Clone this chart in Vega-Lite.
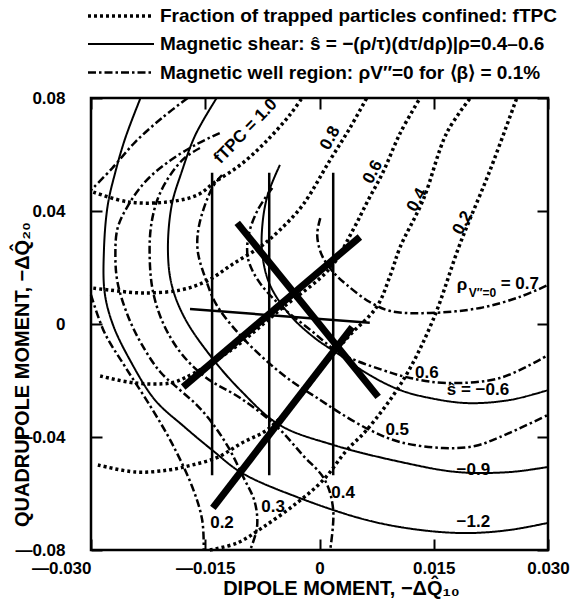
{
  "$schema": "https://vega.github.io/schema/vega-lite/v6.json",
  "width": 457,
  "height": 452,
  "autosize": {"type": "none"},
  "padding": {"left": 91, "top": 98, "right": 22, "bottom": 52},
  "background": "white",
  "config": {
    "view": {"stroke": "black", "strokeWidth": 2.5},
    "font": "Liberation Sans",
    "axis": {
      "labelFont": "Liberation Sans", "labelFontSize": 17, "labelFontWeight": "bold", "labelColor": "black",
      "tickColor": "black", "tickWidth": 2, "tickSize": -11, "domain": false, "grid": false,
      "titleFont": "Liberation Sans", "titleFontSize": 20, "titleFontWeight": "bold", "titleColor": "black"
    },
    "legend": {
      "labelFont": "Liberation Sans", "labelFontSize": 19, "labelFontWeight": "bold", "labelColor": "black", "labelLimit": 0
    }
  },
  "datasets": {
    "curves": [
      {"id": "f1.0", "style": "fTPC", "o": 1, "x": -0.0297, "y": 0.0467},
      {"id": "f1.0", "style": "fTPC", "o": 2, "x": -0.0251, "y": 0.0432},
      {"id": "f1.0", "style": "fTPC", "o": 3, "x": -0.0199, "y": 0.0432},
      {"id": "f1.0", "style": "fTPC", "o": 4, "x": -0.0160, "y": 0.0457},
      {"id": "f1.0", "style": "fTPC", "o": 5, "x": -0.0137, "y": 0.0503},
      {"id": "f1.0", "style": "fTPC", "o": 6, "x": -0.0104, "y": 0.0563},
      {"id": "f1.0", "style": "fTPC", "o": 7, "x": -0.0072, "y": 0.0641},
      {"id": "f1.0", "style": "fTPC", "o": 8, "x": -0.0039, "y": 0.0740},
      {"id": "f1.0", "style": "fTPC", "o": 9, "x": -0.0023, "y": 0.0800},

      {"id": "f0.8", "style": "fTPC", "o": 1, "x": -0.0297, "y": 0.0127},
      {"id": "f0.8", "style": "fTPC", "o": 2, "x": -0.0275, "y": 0.0120},
      {"id": "f0.8", "style": "fTPC", "o": 3, "x": -0.0232, "y": 0.0110},
      {"id": "f0.8", "style": "fTPC", "o": 4, "x": -0.0183, "y": 0.0120},
      {"id": "f0.8", "style": "fTPC", "o": 5, "x": -0.0148, "y": 0.0152},
      {"id": "f0.8", "style": "fTPC", "o": 6, "x": -0.0114, "y": 0.0212},
      {"id": "f0.8", "style": "fTPC", "o": 7, "x": -0.0078, "y": 0.0273},
      {"id": "f0.8", "style": "fTPC", "o": 8, "x": -0.0052, "y": 0.0333},
      {"id": "f0.8", "style": "fTPC", "o": 9, "x": -0.0022, "y": 0.0421},
      {"id": "f0.8", "style": "fTPC", "o": 10, "x": 0.0014, "y": 0.0581},
      {"id": "f0.8", "style": "fTPC", "o": 11, "x": 0.0040, "y": 0.0694},
      {"id": "f0.8", "style": "fTPC", "o": 12, "x": 0.0062, "y": 0.0800},

      {"id": "f0.6", "style": "fTPC", "o": 1, "x": -0.0288, "y": -0.0184},
      {"id": "f0.6", "style": "fTPC", "o": 2, "x": -0.0242, "y": -0.0209},
      {"id": "f0.6", "style": "fTPC", "o": 3, "x": -0.0196, "y": -0.0209},
      {"id": "f0.6", "style": "fTPC", "o": 4, "x": -0.0177, "y": -0.0191},
      {"id": "f0.6", "style": "fTPC", "o": 5, "x": -0.0118, "y": -0.0096},
      {"id": "f0.6", "style": "fTPC", "o": 6, "x": -0.0052, "y": 0.0050},
      {"id": "f0.6", "style": "fTPC", "o": 7, "x": 0.0014, "y": 0.0198},
      {"id": "f0.6", "style": "fTPC", "o": 8, "x": 0.0044, "y": 0.0333},
      {"id": "f0.6", "style": "fTPC", "o": 9, "x": 0.0064, "y": 0.0439},
      {"id": "f0.6", "style": "fTPC", "o": 10, "x": 0.0083, "y": 0.0535},
      {"id": "f0.6", "style": "fTPC", "o": 11, "x": 0.0106, "y": 0.0676},
      {"id": "f0.6", "style": "fTPC", "o": 12, "x": 0.0132, "y": 0.0800},

      {"id": "f0.4", "style": "fTPC", "o": 1, "x": -0.0291, "y": -0.0499},
      {"id": "f0.4", "style": "fTPC", "o": 2, "x": -0.0242, "y": -0.0524},
      {"id": "f0.4", "style": "fTPC", "o": 3, "x": -0.0199, "y": -0.0517},
      {"id": "f0.4", "style": "fTPC", "o": 4, "x": -0.0167, "y": -0.0499},
      {"id": "f0.4", "style": "fTPC", "o": 5, "x": -0.0133, "y": -0.0471},
      {"id": "f0.4", "style": "fTPC", "o": 6, "x": -0.0102, "y": -0.0421},
      {"id": "f0.4", "style": "fTPC", "o": 7, "x": -0.0069, "y": -0.0375},
      {"id": "f0.4", "style": "fTPC", "o": 8, "x": -0.0026, "y": -0.0258},
      {"id": "f0.4", "style": "fTPC", "o": 9, "x": 0.0014, "y": -0.0120},
      {"id": "f0.4", "style": "fTPC", "o": 10, "x": 0.0040, "y": -0.0039},
      {"id": "f0.4", "style": "fTPC", "o": 11, "x": 0.0075, "y": 0.0060},
      {"id": "f0.4", "style": "fTPC", "o": 12, "x": 0.0093, "y": 0.0173},
      {"id": "f0.4", "style": "fTPC", "o": 13, "x": 0.0106, "y": 0.0273},
      {"id": "f0.4", "style": "fTPC", "o": 14, "x": 0.0136, "y": 0.0439},
      {"id": "f0.4", "style": "fTPC", "o": 15, "x": 0.0167, "y": 0.0676},
      {"id": "f0.4", "style": "fTPC", "o": 16, "x": 0.0198, "y": 0.0800},

      {"id": "f0.2", "style": "fTPC", "o": 1, "x": -0.0144, "y": -0.0800},
      {"id": "f0.2", "style": "fTPC", "o": 2, "x": -0.0108, "y": -0.0775},
      {"id": "f0.2", "style": "fTPC", "o": 3, "x": -0.0074, "y": -0.0719},
      {"id": "f0.2", "style": "fTPC", "o": 4, "x": -0.0030, "y": -0.0634},
      {"id": "f0.2", "style": "fTPC", "o": 5, "x": 0.0005, "y": -0.0552},
      {"id": "f0.2", "style": "fTPC", "o": 6, "x": 0.0036, "y": -0.0446},
      {"id": "f0.2", "style": "fTPC", "o": 7, "x": 0.0062, "y": -0.0375},
      {"id": "f0.2", "style": "fTPC", "o": 8, "x": 0.0110, "y": -0.0198},
      {"id": "f0.2", "style": "fTPC", "o": 9, "x": 0.0149, "y": 0.0014},
      {"id": "f0.2", "style": "fTPC", "o": 10, "x": 0.0184, "y": 0.0280},
      {"id": "f0.2", "style": "fTPC", "o": 11, "x": 0.0224, "y": 0.0545},
      {"id": "f0.2", "style": "fTPC", "o": 12, "x": 0.0259, "y": 0.0800},

      {"id": "s-1.2", "style": "shear", "o": 1, "x": -0.0235, "y": 0.0800},
      {"id": "s-1.2", "style": "shear", "o": 2, "x": -0.0255, "y": 0.0658},
      {"id": "s-1.2", "style": "shear", "o": 3, "x": -0.0268, "y": 0.0538},
      {"id": "s-1.2", "style": "shear", "o": 4, "x": -0.0278, "y": 0.0421},
      {"id": "s-1.2", "style": "shear", "o": 5, "x": -0.0283, "y": 0.0262},
      {"id": "s-1.2", "style": "shear", "o": 6, "x": -0.0282, "y": 0.0110},
      {"id": "s-1.2", "style": "shear", "o": 7, "x": -0.0271, "y": -0.0004},
      {"id": "s-1.2", "style": "shear", "o": 8, "x": -0.0249, "y": -0.0127},
      {"id": "s-1.2", "style": "shear", "o": 9, "x": -0.0216, "y": -0.0269},
      {"id": "s-1.2", "style": "shear", "o": 10, "x": -0.0177, "y": -0.0365},
      {"id": "s-1.2", "style": "shear", "o": 11, "x": -0.0141, "y": -0.0446},
      {"id": "s-1.2", "style": "shear", "o": 12, "x": -0.0102, "y": -0.0527},
      {"id": "s-1.2", "style": "shear", "o": 13, "x": -0.0030, "y": -0.0612},
      {"id": "s-1.2", "style": "shear", "o": 14, "x": 0.0062, "y": -0.0694},
      {"id": "s-1.2", "style": "shear", "o": 15, "x": 0.0132, "y": -0.0729},
      {"id": "s-1.2", "style": "shear", "o": 16, "x": 0.0194, "y": -0.0740},
      {"id": "s-1.2", "style": "shear", "o": 17, "x": 0.0250, "y": -0.0729},
      {"id": "s-1.2", "style": "shear", "o": 18, "x": 0.0300, "y": -0.0704},

      {"id": "s-0.9", "style": "shear", "o": 1, "x": -0.0135, "y": 0.0800},
      {"id": "s-0.9", "style": "shear", "o": 2, "x": -0.0163, "y": 0.0669},
      {"id": "s-0.9", "style": "shear", "o": 3, "x": -0.0181, "y": 0.0538},
      {"id": "s-0.9", "style": "shear", "o": 4, "x": -0.0194, "y": 0.0421},
      {"id": "s-0.9", "style": "shear", "o": 5, "x": -0.0199, "y": 0.0262},
      {"id": "s-0.9", "style": "shear", "o": 6, "x": -0.0194, "y": 0.0138},
      {"id": "s-0.9", "style": "shear", "o": 7, "x": -0.0177, "y": 0.0021},
      {"id": "s-0.9", "style": "shear", "o": 8, "x": -0.0144, "y": -0.0110},
      {"id": "s-0.9", "style": "shear", "o": 9, "x": -0.0104, "y": -0.0234},
      {"id": "s-0.9", "style": "shear", "o": 10, "x": -0.0052, "y": -0.0358},
      {"id": "s-0.9", "style": "shear", "o": 11, "x": 0.0018, "y": -0.0428},
      {"id": "s-0.9", "style": "shear", "o": 12, "x": 0.0106, "y": -0.0488},
      {"id": "s-0.9", "style": "shear", "o": 13, "x": 0.0181, "y": -0.0524},
      {"id": "s-0.9", "style": "shear", "o": 14, "x": 0.0250, "y": -0.0524},
      {"id": "s-0.9", "style": "shear", "o": 15, "x": 0.0300, "y": -0.0506},

      {"id": "s-0.6", "style": "shear", "o": 1, "x": -0.0052, "y": 0.0563},
      {"id": "s-0.6", "style": "shear", "o": 2, "x": -0.0068, "y": 0.0457},
      {"id": "s-0.6", "style": "shear", "o": 3, "x": -0.0075, "y": 0.0350},
      {"id": "s-0.6", "style": "shear", "o": 4, "x": -0.0075, "y": 0.0244},
      {"id": "s-0.6", "style": "shear", "o": 5, "x": -0.0065, "y": 0.0138},
      {"id": "s-0.6", "style": "shear", "o": 6, "x": -0.0039, "y": 0.0032},
      {"id": "s-0.6", "style": "shear", "o": 7, "x": -0.0006, "y": -0.0050},
      {"id": "s-0.6", "style": "shear", "o": 8, "x": 0.0023, "y": -0.0103},
      {"id": "s-0.6", "style": "shear", "o": 9, "x": 0.0066, "y": -0.0181},
      {"id": "s-0.6", "style": "shear", "o": 10, "x": 0.0106, "y": -0.0234},
      {"id": "s-0.6", "style": "shear", "o": 11, "x": 0.0145, "y": -0.0262},
      {"id": "s-0.6", "style": "shear", "o": 12, "x": 0.0194, "y": -0.0280},
      {"id": "s-0.6", "style": "shear", "o": 13, "x": 0.0250, "y": -0.0269},
      {"id": "s-0.6", "style": "shear", "o": 14, "x": 0.0300, "y": -0.0234},

      {"id": "w0.2a", "style": "well", "o": 1, "x": -0.0173, "y": 0.0800},
      {"id": "w0.2a", "style": "well", "o": 2, "x": -0.0207, "y": 0.0729},
      {"id": "w0.2a", "style": "well", "o": 3, "x": -0.0242, "y": 0.0644},
      {"id": "w0.2a", "style": "well", "o": 4, "x": -0.0272, "y": 0.0552},
      {"id": "w0.2a", "style": "well", "o": 5, "x": -0.0300, "y": 0.0474},

      {"id": "w0.2b", "style": "well", "o": 1, "x": -0.0300, "y": 0.0103},
      {"id": "w0.2b", "style": "well", "o": 2, "x": -0.0282, "y": -0.0032},
      {"id": "w0.2b", "style": "well", "o": 3, "x": -0.0255, "y": -0.0152},
      {"id": "w0.2b", "style": "well", "o": 4, "x": -0.0223, "y": -0.0287},
      {"id": "w0.2b", "style": "well", "o": 5, "x": -0.0194, "y": -0.0421},
      {"id": "w0.2b", "style": "well", "o": 6, "x": -0.0167, "y": -0.0577},
      {"id": "w0.2b", "style": "well", "o": 7, "x": -0.0154, "y": -0.0694},
      {"id": "w0.2b", "style": "well", "o": 8, "x": -0.0152, "y": -0.0800},

      {"id": "w0.3", "style": "well", "o": 1, "x": -0.0131, "y": 0.0676},
      {"id": "w0.3", "style": "well", "o": 2, "x": -0.0163, "y": 0.0634},
      {"id": "w0.3", "style": "well", "o": 3, "x": -0.0199, "y": 0.0573},
      {"id": "w0.3", "style": "well", "o": 4, "x": -0.0229, "y": 0.0503},
      {"id": "w0.3", "style": "well", "o": 5, "x": -0.0251, "y": 0.0421},
      {"id": "w0.3", "style": "well", "o": 6, "x": -0.0265, "y": 0.0340},
      {"id": "w0.3", "style": "well", "o": 7, "x": -0.0268, "y": 0.0244},
      {"id": "w0.3", "style": "well", "o": 8, "x": -0.0265, "y": 0.0145},
      {"id": "w0.3", "style": "well", "o": 9, "x": -0.0251, "y": 0.0025},
      {"id": "w0.3", "style": "well", "o": 10, "x": -0.0233, "y": -0.0074},
      {"id": "w0.3", "style": "well", "o": 11, "x": -0.0209, "y": -0.0170},
      {"id": "w0.3", "style": "well", "o": 12, "x": -0.0183, "y": -0.0234},
      {"id": "w0.3", "style": "well", "o": 13, "x": -0.0161, "y": -0.0287},
      {"id": "w0.3", "style": "well", "o": 14, "x": -0.0141, "y": -0.0350},
      {"id": "w0.3", "style": "well", "o": 15, "x": -0.0120, "y": -0.0435},
      {"id": "w0.3", "style": "well", "o": 16, "x": -0.0100, "y": -0.0542},
      {"id": "w0.3", "style": "well", "o": 17, "x": -0.0085, "y": -0.0630},
      {"id": "w0.3", "style": "well", "o": 18, "x": -0.0082, "y": -0.0719},
      {"id": "w0.3", "style": "well", "o": 19, "x": -0.0091, "y": -0.0800},

      {"id": "w0.4", "style": "well", "o": 1, "x": -0.0157, "y": 0.0623},
      {"id": "w0.4", "style": "well", "o": 2, "x": -0.0177, "y": 0.0588},
      {"id": "w0.4", "style": "well", "o": 3, "x": -0.0196, "y": 0.0527},
      {"id": "w0.4", "style": "well", "o": 4, "x": -0.0212, "y": 0.0446},
      {"id": "w0.4", "style": "well", "o": 5, "x": -0.0221, "y": 0.0350},
      {"id": "w0.4", "style": "well", "o": 6, "x": -0.0223, "y": 0.0244},
      {"id": "w0.4", "style": "well", "o": 7, "x": -0.0219, "y": 0.0120},
      {"id": "w0.4", "style": "well", "o": 8, "x": -0.0206, "y": 0.0007},
      {"id": "w0.4", "style": "well", "o": 9, "x": -0.0183, "y": -0.0099},
      {"id": "w0.4", "style": "well", "o": 10, "x": -0.0150, "y": -0.0188},
      {"id": "w0.4", "style": "well", "o": 11, "x": -0.0104, "y": -0.0262},
      {"id": "w0.4", "style": "well", "o": 12, "x": -0.0058, "y": -0.0358},
      {"id": "w0.4", "style": "well", "o": 13, "x": -0.0022, "y": -0.0464},
      {"id": "w0.4", "style": "well", "o": 14, "x": 0.0007, "y": -0.0552},
      {"id": "w0.4", "style": "well", "o": 15, "x": 0.0018, "y": -0.0658},
      {"id": "w0.4", "style": "well", "o": 16, "x": 0.0014, "y": -0.0800},

      {"id": "w0.5", "style": "well", "o": 1, "x": -0.0128, "y": 0.0527},
      {"id": "w0.5", "style": "well", "o": 2, "x": -0.0141, "y": 0.0481},
      {"id": "w0.5", "style": "well", "o": 3, "x": -0.0158, "y": 0.0350},
      {"id": "w0.5", "style": "well", "o": 4, "x": -0.0160, "y": 0.0262},
      {"id": "w0.5", "style": "well", "o": 5, "x": -0.0150, "y": 0.0163},
      {"id": "w0.5", "style": "well", "o": 6, "x": -0.0135, "y": 0.0067},
      {"id": "w0.5", "style": "well", "o": 7, "x": -0.0108, "y": -0.0028},
      {"id": "w0.5", "style": "well", "o": 8, "x": -0.0074, "y": -0.0120},
      {"id": "w0.5", "style": "well", "o": 9, "x": -0.0039, "y": -0.0198},
      {"id": "w0.5", "style": "well", "o": 10, "x": 0.0001, "y": -0.0269},
      {"id": "w0.5", "style": "well", "o": 11, "x": 0.0027, "y": -0.0315},
      {"id": "w0.5", "style": "well", "o": 12, "x": 0.0066, "y": -0.0375},
      {"id": "w0.5", "style": "well", "o": 13, "x": 0.0106, "y": -0.0418},
      {"id": "w0.5", "style": "well", "o": 14, "x": 0.0162, "y": -0.0439},
      {"id": "w0.5", "style": "well", "o": 15, "x": 0.0204, "y": -0.0432},
      {"id": "w0.5", "style": "well", "o": 16, "x": 0.0237, "y": -0.0400},
      {"id": "w0.5", "style": "well", "o": 17, "x": 0.0300, "y": -0.0322},

      {"id": "w0.6", "style": "well", "o": 1, "x": -0.0062, "y": 0.0481},
      {"id": "w0.6", "style": "well", "o": 2, "x": -0.0081, "y": 0.0404},
      {"id": "w0.6", "style": "well", "o": 3, "x": -0.0093, "y": 0.0315},
      {"id": "w0.6", "style": "well", "o": 4, "x": -0.0094, "y": 0.0234},
      {"id": "w0.6", "style": "well", "o": 5, "x": -0.0081, "y": 0.0156},
      {"id": "w0.6", "style": "well", "o": 6, "x": -0.0052, "y": 0.0067},
      {"id": "w0.6", "style": "well", "o": 7, "x": -0.0012, "y": -0.0021},
      {"id": "w0.6", "style": "well", "o": 8, "x": 0.0027, "y": -0.0103},
      {"id": "w0.6", "style": "well", "o": 9, "x": 0.0083, "y": -0.0163},
      {"id": "w0.6", "style": "well", "o": 10, "x": 0.0119, "y": -0.0191},
      {"id": "w0.6", "style": "well", "o": 11, "x": 0.0167, "y": -0.0209},
      {"id": "w0.6", "style": "well", "o": 12, "x": 0.0237, "y": -0.0191},
      {"id": "w0.6", "style": "well", "o": 13, "x": 0.0300, "y": -0.0110},

      {"id": "w0.7", "style": "well", "o": 1, "x": 0.0001, "y": 0.0375},
      {"id": "w0.7", "style": "well", "o": 2, "x": -0.0003, "y": 0.0315},
      {"id": "w0.7", "style": "well", "o": 3, "x": 0.0003, "y": 0.0244},
      {"id": "w0.7", "style": "well", "o": 4, "x": 0.0018, "y": 0.0184},
      {"id": "w0.7", "style": "well", "o": 5, "x": 0.0036, "y": 0.0138},
      {"id": "w0.7", "style": "well", "o": 6, "x": 0.0066, "y": 0.0078},
      {"id": "w0.7", "style": "well", "o": 7, "x": 0.0093, "y": 0.0046},
      {"id": "w0.7", "style": "well", "o": 8, "x": 0.0145, "y": 0.0039},
      {"id": "w0.7", "style": "well", "o": 9, "x": 0.0211, "y": 0.0057},
      {"id": "w0.7", "style": "well", "o": 10, "x": 0.0263, "y": 0.0096},
      {"id": "w0.7", "style": "well", "o": 11, "x": 0.0300, "y": 0.0138}
    ],
    "scans": [
      {"id": "L1", "kind": "thick", "o": 1, "x": -0.0179, "y": -0.0223},
      {"id": "L1", "kind": "thick", "o": 2, "x": 0.0053, "y": 0.0308},
      {"id": "L2", "kind": "thick", "o": 1, "x": -0.0140, "y": -0.0651},
      {"id": "L2", "kind": "thick", "o": 2, "x": 0.0043, "y": -0.0011},
      {"id": "L3", "kind": "thick", "o": 1, "x": -0.0108, "y": 0.0358},
      {"id": "L3", "kind": "thick", "o": 2, "x": 0.0077, "y": -0.0258},
      {"id": "V1", "kind": "thin", "o": 1, "x": -0.0141, "y": 0.0535},
      {"id": "V1", "kind": "thin", "o": 2, "x": -0.0141, "y": -0.0535},
      {"id": "V2", "kind": "thin", "o": 1, "x": -0.0066, "y": 0.0535},
      {"id": "V2", "kind": "thin", "o": 2, "x": -0.0066, "y": -0.0535},
      {"id": "V3", "kind": "thin", "o": 1, "x": 0.0018, "y": 0.0535},
      {"id": "V3", "kind": "thin", "o": 2, "x": 0.0018, "y": -0.0535},
      {"id": "H1", "kind": "thin", "o": 1, "x": -0.0170, "y": 0.0053},
      {"id": "H1", "kind": "thin", "o": 2, "x": 0.0066, "y": 0.0004}
    ],
    "labels": [
      {"kind": "ftpc1", "text": "fTPC = 1.0", "x": -0.0097, "y": 0.0682},
      {"kind": "ftpc", "text": "0.8", "x": 0.0014, "y": 0.0658},
      {"kind": "ftpc", "text": "0.6", "x": 0.0070, "y": 0.0538},
      {"kind": "ftpc", "text": "0.4", "x": 0.0128, "y": 0.0439},
      {"kind": "ftpc", "text": "0.2", "x": 0.0188, "y": 0.0358},
      {"kind": "flat", "text": "ρ", "x": 0.0187, "y": 0.0138},
      {"kind": "flat", "text": "= 0.7", "x": 0.0263, "y": 0.0142},
      {"kind": "flat", "text": "0.6", "x": 0.0141, "y": -0.0173},
      {"kind": "flat", "text": "ŝ = −0.6", "x": 0.0208, "y": -0.0234},
      {"kind": "flat", "text": "0.5", "x": 0.0102, "y": -0.0375},
      {"kind": "flat", "text": "−0.9", "x": 0.0202, "y": -0.0517},
      {"kind": "flat", "text": "0.4", "x": 0.0031, "y": -0.0598},
      {"kind": "flat", "text": "−1.2", "x": 0.0202, "y": -0.0701},
      {"kind": "flat", "text": "0.3", "x": -0.0061, "y": -0.0648},
      {"kind": "flat", "text": "0.2", "x": -0.0128, "y": -0.0704},
      {"kind": "sub", "text": "V″=0", "x": 0.0214, "y": 0.0110}
    ]
  },
  "encoding": {
    "x": {"field": "x", "type": "quantitative", "scale": {"domain": [-0.03, 0.03], "nice": false, "zero": false}, "axis": null},
    "y": {"field": "y", "type": "quantitative", "scale": {"domain": [-0.08, 0.08], "nice": false, "zero": false}, "axis": null}
  },
  "layer": [
    {
      "data": {"name": "curves"},
      "mark": {"type": "line", "color": "black", "strokeCap": "butt", "interpolate": "catmull-rom"},
      "encoding": {
        "x": {"field": "x", "type": "quantitative", "scale": {"domain": [-0.03, 0.03], "nice": false, "zero": false},
          "axis": {"orient": "bottom", "values": [-0.03, -0.015, 0, 0.015, 0.03],
            "labelExpr": "datum.value == 0 ? '0' : (datum.value < 0 ? '—' : '') + format(abs(datum.value), '.3f')",
            "labelFlush": false, "labelOverlap": false, "labelPadding": 21,
            "labelAlign": {"condition": {"test": "datum.value < -0.02", "value": "right"}, "value": "center"},
            "title": "DIPOLE MOMENT,  −ΔQ̂₁₀", "titleBaseline": "middle", "titleX": 250, "titleY": 38}},
        "y": {"field": "y", "type": "quantitative", "scale": {"domain": [-0.08, 0.08], "nice": false, "zero": false},
          "axis": {"orient": "left", "values": [-0.08, -0.04, 0, 0.04, 0.08],
            "labelExpr": "datum.value == 0 ? '0' : (datum.value < 0 ? '—' : '') + format(abs(datum.value), '.2f')",
            "labelOverlap": false, "labelPadding": 37,
            "title": "QUADRUPOLE MOMENT,  −ΔQ̂₂₀", "titleBaseline": "middle", "titleX": -69, "titleY": 276}},
        "detail": {"field": "id"},
        "order": {"field": "o", "type": "quantitative"},
        "strokeDash": {"field": "style", "type": "nominal",
          "scale": {"domain": ["fTPC", "shear", "well"], "range": [[3, 3], [1, 0], [8, 3, 2.5, 3]]},
          "legend": {"orient": "none", "legendX": 17, "legendY": -95, "title": null, "padding": 0,
            "symbolType": "M-3,0H3", "symbolSize": 484, "symbolStrokeColor": "black", "symbolFillColor": "transparent",
            "labelFont": "Liberation Sans", "labelFontSize": 19, "labelFontWeight": "bold", "labelColor": "black",
            "labelLimit": 0, "labelOffset": 26, "rowPadding": 6,
            "labelExpr": "datum.value == 'fTPC' ? 'Fraction of trapped particles confined: fTPC' : datum.value == 'shear' ? 'Magnetic shear: ŝ = −(ρ/τ)(dτ/dρ)|ρ=0.4–0.6' : 'Magnetic well region: ρV″=0 for ⟨β⟩ = 0.1%'"}},
        "strokeWidth": {"field": "style", "type": "nominal",
          "scale": {"type": "ordinal", "domain": ["fTPC", "shear", "well"], "range": [3.5, 2, 2.5]},
          "legend": {"orient": "none", "legendX": 17, "legendY": -95, "title": null, "padding": 0,
            "symbolType": "M-3,0H3", "symbolSize": 484, "symbolStrokeColor": "black", "symbolFillColor": "transparent",
            "labelFont": "Liberation Sans", "labelFontSize": 19, "labelFontWeight": "bold", "labelColor": "black",
            "labelLimit": 0, "labelOffset": 26, "rowPadding": 6,
            "labelExpr": "datum.value == 'fTPC' ? 'Fraction of trapped particles confined: fTPC' : datum.value == 'shear' ? 'Magnetic shear: ŝ = −(ρ/τ)(dτ/dρ)|ρ=0.4–0.6' : 'Magnetic well region: ρV″=0 for ⟨β⟩ = 0.1%'"}}
      }
    },
    {
      "data": {"name": "scans"},
      "transform": [{"filter": "datum.kind == 'thin'"}],
      "mark": {"type": "line", "color": "black", "strokeWidth": 2.5},
      "encoding": {
        "x": {"field": "x", "type": "quantitative", "scale": {"domain": [-0.03, 0.03], "nice": false, "zero": false},
          "axis": {"orient": "top", "values": [-0.03, -0.015, 0, 0.015, 0.03], "labels": false, "title": null}},
        "y": {"field": "y", "type": "quantitative", "scale": {"domain": [-0.08, 0.08], "nice": false, "zero": false},
          "axis": {"orient": "right", "values": [-0.08, -0.04, 0, 0.04, 0.08], "labels": false, "title": null}},
        "detail": {"field": "id"},
        "order": {"field": "o", "type": "quantitative"}
      }
    },
    {
      "data": {"name": "scans"},
      "transform": [{"filter": "datum.kind == 'thick'"}],
      "mark": {"type": "line", "color": "black", "strokeWidth": 7, "strokeCap": "butt"},
      "encoding": {
        "detail": {"field": "id"},
        "order": {"field": "o", "type": "quantitative"}
      }
    },
    {
      "data": {"name": "labels"},
      "transform": [{"filter": "datum.kind == 'ftpc1'"}],
      "mark": {"type": "text", "angle": -46, "font": "Liberation Sans", "fontSize": 17, "fontWeight": "bold", "color": "black"},
      "encoding": {"text": {"field": "text"}}
    },
    {
      "data": {"name": "labels"},
      "transform": [{"filter": "datum.kind == 'ftpc'"}],
      "mark": {"type": "text", "angle": -62, "font": "Liberation Sans", "fontSize": 17, "fontWeight": "bold", "color": "black"},
      "encoding": {"text": {"field": "text"}}
    },
    {
      "data": {"name": "labels"},
      "transform": [{"filter": "datum.kind == 'flat'"}],
      "mark": {"type": "text", "font": "Liberation Sans", "fontSize": 17, "fontWeight": "bold", "color": "black"},
      "encoding": {"text": {"field": "text"}}
    },
    {
      "data": {"name": "labels"},
      "transform": [{"filter": "datum.kind == 'sub'"}],
      "mark": {"type": "text", "font": "Liberation Sans", "fontSize": 12, "fontWeight": "bold", "color": "black"},
      "encoding": {"text": {"field": "text"}}
    }
  ],
  "resolve": {"axis": {"x": "independent", "y": "independent"}}
}
